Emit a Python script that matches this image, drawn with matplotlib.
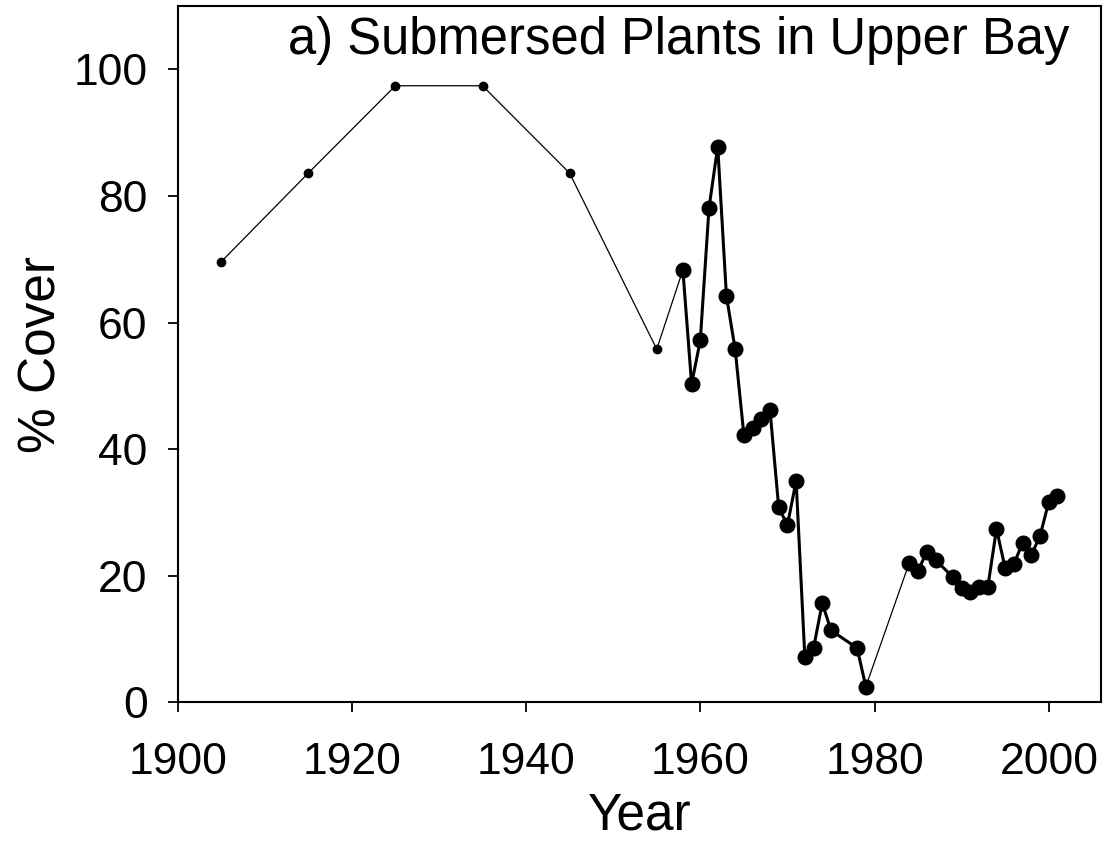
import numpy as np
import matplotlib
matplotlib.use("Agg")
import matplotlib.pyplot as plt

plt.rcParams['font.family'] = ['Liberation Sans', 'DejaVu Sans']

# early survey years (sparse)
early_years = [1905, 1915, 1925, 1935, 1945, 1955]
early_cover = [69.6, 83.6, 97.4, 97.4, 83.6, 55.8]

# annual surveys, first block
years_a = [1958, 1959, 1960, 1961, 1962, 1963, 1964, 1965, 1966, 1967, 1968,
           1969, 1970, 1971, 1972, 1973, 1974, 1975, 1978, 1979]
cover_a = [68.3, 50.3, 57.2, 78.1, 87.8, 64.2, 55.8, 42.3, 43.3, 44.7, 46.2,
           30.8, 28.0, 35.0, 7.2, 8.6, 15.7, 11.4, 8.6, 2.5]

# annual surveys, second block
years_b = [1984, 1985, 1986, 1987, 1989, 1990, 1991, 1992, 1993, 1994, 1995,
           1996, 1997, 1998, 1999, 2000, 2001]
cover_b = [22.1, 20.8, 23.8, 22.5, 19.8, 18.1, 17.4, 18.3, 18.2, 27.4, 21.2,
           21.9, 25.2, 23.3, 26.3, 31.7, 32.6]

fig = plt.figure(figsize=(11.17, 8.42), dpi=100)
ax = fig.add_axes([0.159, 0.1657, 0.8267, 0.8272])

# thin line through everything
all_years = early_years + years_a + years_b
all_cover = early_cover + cover_a + cover_b
ax.plot(all_years, all_cover, color="black", lw=0.9, zorder=2)
ax.plot(early_years, early_cover, "o", color="black", ms=6, zorder=3)

# thick line + big dots for the annual data
for yy, cc in [(years_a, cover_a), (years_b, cover_b)]:
    ax.plot(yy, cc, "-o", color="black", lw=2.2, ms=10.5, zorder=4)

ax.set_xlim(1900, 2006)
ax.set_ylim(0, 110)
ax.set_xticks(np.arange(1900, 2001, 20))
ax.set_yticks(np.arange(0, 101, 20))
ax.tick_params(axis="both", direction="out", length=7.5, width=1.3,
               labelsize=32)
ax.tick_params(axis="x", pad=21)
ax.tick_params(axis="y", pad=14)
ax.tick_params(top=False, right=False)
for s in ax.spines.values():
    s.set_linewidth(1.5)

ax.set_xlabel("Year", fontsize=37, labelpad=6)
ax.set_ylabel("% Cover", fontsize=37, labelpad=5)
ax.text(0.966, 0.931, "a) Submersed Plants in Upper Bay", transform=ax.transAxes,
        ha="right", va="baseline", fontsize=36.5)

fig.savefig("out.png", dpi=100)
